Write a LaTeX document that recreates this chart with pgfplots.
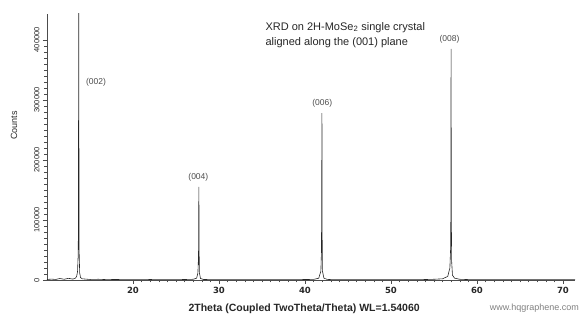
\documentclass[border=0pt]{standalone}
\usepackage{pgfplots}
\pgfplotsset{compat=1.18}
\usepackage{fontspec}
\setmainfont{Liberation Sans}
\newfontfamily\dejavu{DejaVu Sans}
\begin{document}
\begin{tikzpicture}
\begin{axis}[
  scale only axis, width=528pt, height=266pt,
  xmin=10, xmax=71.4, ymin=0, ymax=443000,
  axis lines=left, axis line style={-, black!70, line width=0.5pt},
  clip mode=individual,
  xtick={20,30,40,50,60,70}, minor x tick num=9,
  ytick={0,100000,200000,300000,400000}, minor y tick num=9,
  tick align=outside, major tick length=4pt, minor tick length=2.5pt,
  tick style={black!70, line width=0.4pt},
  scaled ticks=false,
  yticklabels={0,100000,200000,300000,400000},
  /pgf/number format/assume math mode=true,
  xticklabel style={font=\dejavu\fontsize{8.5}{10}\selectfont\bfseries, text=black!85},
  yticklabel style={font=\fontsize{7.5}{9}\selectfont, rotate=90, anchor=south, text=black!85},
  xlabel={2Theta (Coupled TwoTheta/Theta) WL=1.54060},
  xlabel style={font=\fontsize{10.5}{12}\selectfont\bfseries, text=black!85, at={(ticklabel cs:0.487)}, anchor=north, yshift=-3pt},
  ylabel={Counts},
  ylabel style={font=\fontsize{9}{11}\selectfont, text=black!85, at={(ticklabel cs:0.58)}, anchor=south, yshift=10pt},
]
\addplot[black!85, line width=0.6pt] coordinates {
(10.0,800)(10.5,1500)(11.0,900)(11.5,2500)(12.0,1200)(12.5,2800)(13.0,1500)(13.3,3000)
(13.45,6000)(13.55,14000)(13.62,40000)(13.66,90000)(13.67,288000)(13.69,470000)(13.71,288000)
(13.72,160000)(13.74,45000)(13.80,12000)(13.90,4000)(14.1,2000)(14.5,1500)(15.0,900)
(16.0,1200)(17.0,600)(18.0,900)(19.0,500)(20.0,700)(21.0,500)(22.0,800)(23.0,500)
(24.0,700)(25.0,600)(26.0,800)(27.0,1200)(27.4,3000)(27.55,12000)(27.62,40000)
(27.64,93000)(27.66,155000)(27.68,93000)(27.69,50000)(27.72,12000)(27.85,2500)
(28.2,900)(29.0,600)(30.0,700)(31.0,500)(32.0,600)(33.0,500)(34.0,700)(35.0,500)
(36.0,600)(37.0,500)(38.0,700)(39.0,600)(40.0,800)(41.0,1000)(41.6,3000)(41.85,15000)
(41.92,50000)(41.94,142000)(41.96,217000)(41.97,278000)(41.98,217000)(41.99,142000)(42.00,70000)
(42.03,15000)(42.2,3000)(42.6,1000)(43.0,700)(44.0,500)(45.0,600)(46.0,500)(47.0,600)
(48.0,500)(49.0,700)(50.0,600)(51.0,500)(52.0,700)(53.0,500)(54.0,800)(55.0,1200)
(56.0,2000)(56.6,6000)(56.85,20000)(56.95,58000)(56.97,180000)(56.99,385000)
(57.01,180000)(57.02,100000)(57.06,30000)(57.15,8000)(57.4,3000)(58.0,1200)(59.0,700)
(60.0,500)(61.0,600)(62.0,500)(63.0,700)(64.0,500)(65.0,600)(66.0,500)(67.0,600)
(68.0,500)(69.0,600)(70.0,500)(71.4,500)
};
\node[font=\fontsize{8.5}{10}\selectfont, text=black!70] at (axis cs:15.7,330000) {(002)};
\node[font=\fontsize{8.5}{10}\selectfont, text=black!70] at (axis cs:27.6,171000) {(004)};
\node[font=\fontsize{8.5}{10}\selectfont, text=black!70] at (axis cs:42.0,294000) {(006)};
\node[font=\fontsize{8.5}{10}\selectfont, text=black!70] at (axis cs:56.8,401000) {(008)};
\node[font=\fontsize{11}{15}\selectfont, text=black!85, anchor=west, align=left] at (axis cs:35.0,408000)
  {XRD on 2H-MoSe\textsubscript{2} single crystal\\aligned along the (001) plane};
\end{axis}
\node[overlay, font=\fontsize{9}{10}\selectfont, text=black!50, anchor=south east, inner sep=1pt] at (533pt,-33.5pt) {www.hqgraphene.com};
\path[use as bounding box] (-47pt,-34pt) rectangle (534pt,280pt);
\end{tikzpicture}
\end{document}
